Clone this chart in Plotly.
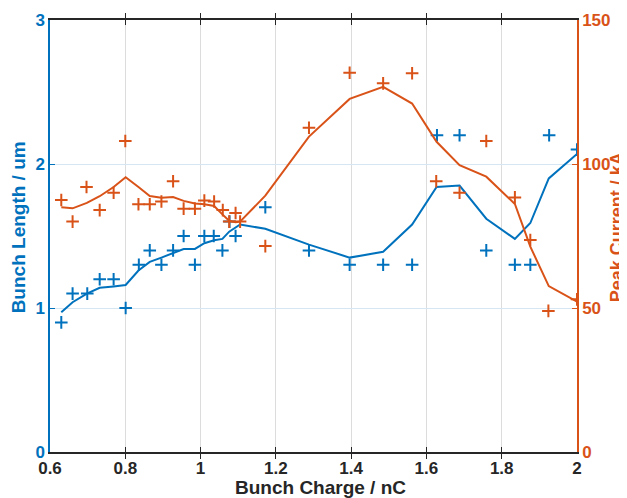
import plotly.graph_objects as go

# Measured points (crosses)
blue_x = [0.630, 0.660, 0.699, 0.732, 0.769, 0.801, 0.836, 0.865, 0.896, 0.927, 0.955, 0.985,
          1.010, 1.035, 1.058, 1.077, 1.093, 1.172, 1.288, 1.396, 1.485, 1.562, 1.628, 1.688,
          1.759, 1.835, 1.876, 1.926, 2.000]
blue_y = [0.9, 1.1, 1.1, 1.2, 1.2, 1.0, 1.3, 1.4, 1.3, 1.4, 1.5, 1.3,
          1.5, 1.5, 1.4, 1.6, 1.5, 1.7, 1.4, 1.3, 1.3, 1.3, 2.2, 2.2,
          1.4, 1.3, 1.3, 2.2, 2.1]

orange_x = [0.630, 0.660, 0.697, 0.732, 0.769, 0.800, 0.835, 0.865, 0.896, 0.927, 0.955, 0.985,
            1.010, 1.036, 1.059, 1.076, 1.093, 1.105, 1.172, 1.288, 1.396, 1.485, 1.562, 1.626,
            1.688, 1.759, 1.835, 1.876, 1.924, 2.000]
orange_y = [87.5, 80, 92, 84, 90, 108, 86, 86, 87, 94, 84.5, 84.5,
            87.3, 87, 84, 80, 83, 80, 71.5, 112.6, 131.7, 128, 131.5, 94,
            90, 108, 88.4, 73.6, 49, 53]

# Smoothed curves
line_x = [0.630, 0.660, 0.698, 0.732, 0.769, 0.801, 0.835, 0.865, 0.896, 0.927, 0.955, 0.985,
          1.010, 1.036, 1.058, 1.076, 1.093, 1.105, 1.172, 1.288, 1.396, 1.485, 1.562, 1.627,
          1.688, 1.759, 1.835, 1.876, 1.925, 2.000]
blue_line = [0.97, 1.04, 1.10, 1.14, 1.15, 1.16, 1.26, 1.32, 1.35, 1.38, 1.41, 1.41,
             1.45, 1.47, 1.48, 1.53, 1.56, 1.58, 1.55, 1.44, 1.35, 1.39, 1.58, 1.84,
             1.85, 1.62, 1.48, 1.59, 1.90, 2.07]
orange_line = [85, 84.6, 86.5, 88.8, 92, 95.4, 92, 88.9, 88.3, 88.5, 87.2, 86.3,
               86, 85.4, 82.5, 80.3, 79.8, 80, 89, 109.5, 122.6, 126.8, 121, 107.7,
               99.6, 95.6, 86.1, 71.3, 57.6, 52.2]

x_ticks = [0.6, 0.8, 1.0, 1.2, 1.4, 1.6, 1.8, 2.0]
x_ticklabels = ["0.6", "0.8", "1", "1.2", "1.4", "1.6", "1.8", "2"]
y1_ticks = [0, 1, 2, 3]
y2_ticks = [0, 50, 100, 150]

x_title = "Bunch Charge / nC"
y1_title = "Bunch Length / um"
y2_title = "Peak Current / kA"

BLUE = "#0072BD"
ORANGE = "#D95319"
DARK = "#262626"
FONT = "Liberation Sans"

fig = go.Figure()
fig.add_trace(go.Scatter(x=line_x, y=blue_line, mode="lines",
                         line=dict(color=BLUE, width=2), yaxis="y", showlegend=False))
fig.add_trace(go.Scatter(x=blue_x, y=blue_y, mode="markers",
                         marker=dict(symbol="cross-thin", size=9, line=dict(color=BLUE, width=2)),
                         yaxis="y", showlegend=False))
fig.add_trace(go.Scatter(x=line_x, y=orange_line, mode="lines",
                         line=dict(color=ORANGE, width=2), yaxis="y2", showlegend=False))
fig.add_trace(go.Scatter(x=orange_x, y=orange_y, mode="markers",
                         marker=dict(symbol="cross-thin", size=9, line=dict(color=ORANGE, width=2)),
                         yaxis="y2", showlegend=False))

fig.update_layout(
    width=627, height=498,
    margin=dict(l=42, r=58, t=12, b=54, autoexpand=False),
    paper_bgcolor="white", plot_bgcolor="white",
    font=dict(family=FONT, size=17, color=DARK),
    xaxis=dict(
        range=[0.6, 2.0], tickvals=x_ticks, ticktext=x_ticklabels, automargin=False,
        showline=True, linecolor=DARK, linewidth=1.5, mirror="allticks",
        ticks="inside", ticklen=5, tickcolor=DARK, tickwidth=1,
        showgrid=True, gridcolor="#DCDCDC", gridwidth=1, zeroline=False,
        tickfont=dict(family=FONT, size=17, color=DARK, weight="bold"),
    ),
    yaxis=dict(
        range=[0, 3], tickvals=y1_ticks, automargin=False,
        showline=True, linecolor=BLUE, linewidth=1.5,
        ticks="inside", ticklen=5, tickcolor=BLUE,
        showgrid=True, gridcolor="#D6E6F3", gridwidth=1, zeroline=False,
        tickfont=dict(family=FONT, size=17, color=BLUE, weight="bold"),
    ),
    yaxis2=dict(
        range=[0, 150], tickvals=y2_ticks, overlaying="y", side="right", automargin=False,
        showline=True, linecolor=ORANGE, linewidth=1.5,
        ticks="inside", ticklen=5, tickcolor=ORANGE,
        showgrid=False, zeroline=False,
        tickfont=dict(family=FONT, size=17, color=ORANGE, weight="bold"),
    ),
    annotations=[
        dict(text=x_title, xref="paper", yref="paper", x=0.514, y=0, xanchor="center",
             yanchor="middle", yshift=-35, showarrow=False,
             font=dict(family=FONT, size=19, color=DARK, weight="bold")),
        dict(text=y1_title, xref="paper", yref="paper", x=0, y=0.52, xanchor="center",
             yanchor="middle", xshift=-32, textangle=-90, showarrow=False,
             font=dict(family=FONT, size=19, color=BLUE, weight="bold")),
        dict(text=y2_title, xref="paper", yref="paper", x=1, y=0.52, xanchor="center",
             yanchor="middle", xshift=40, textangle=-90, showarrow=False,
             font=dict(family=FONT, size=18, color=ORANGE, weight="bold")),
    ],
)

fig.write_html("out.html")
